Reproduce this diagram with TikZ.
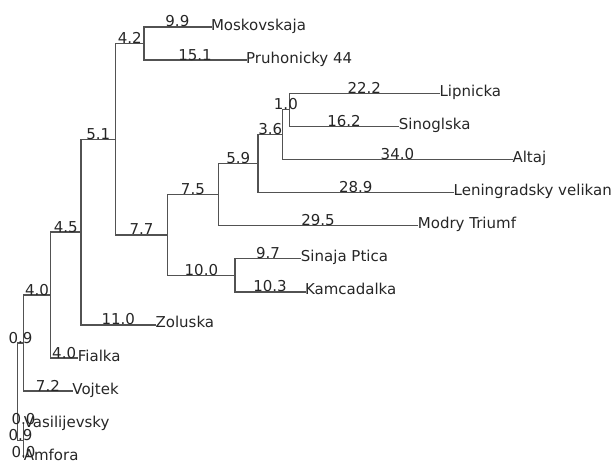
\documentclass[tikz,border=0pt]{standalone}
\usepackage{fontspec}
\setmainfont{DejaVu Sans}
\newcommand\cl[3]{\coordinate (#1) at ({17.5+6.76*#2},{-6.1+33.1*#3});}
\newcommand\branch[3]{\draw[br] (#1 |- #2) -- node[blab]{#3} (#2);}
\newcommand\vspan[3]{\draw[br] (#1 |- #2) -- (#1 |- #3);}
\begin{document}
\begin{tikzpicture}[x=1pt,y=-1pt,
  br/.style={draw=black!68, line width=1.4pt, line cap=rect},
  blab/.style={anchor=base, inner sep=0pt, text=black!85, font=\fontsize{15}{17}\selectfont},
  tlab/.style={anchor=base west, inner sep=0pt, text=black!85, font=\fontsize{15}{17}\selectfont}]
\useasboundingbox (0,0) rectangle (613,463);
% clades
\cl{root}{0}{12.0244}
\cl{A}{0.9}{10.548828}
\cl{B}{0.9}{13.5}
\cl{n40}{4.9}{9.09765625}
\cl{n45}{9.4}{7.1953125}
\cl{n51}{14.5}{4.390625}
\cl{n42}{18.7}{1.5}
\cl{n77}{22.2}{7.28125}
\cl{n75}{29.7}{6.0625}
\cl{n59}{35.6}{5.125}
\cl{n36}{39.2}{4.25}
\cl{n10}{40.2}{3.5}
\cl{n100}{32.2}{8.5}
% tips
\cl{mosk}{28.6}{1}
\cl{pruh}{33.8}{2}
\cl{lipn}{62.4}{3}
\cl{sino}{56.4}{4}
\cl{alta}{73.2}{5}
\cl{leni}{64.5}{6}
\cl{modr}{59.2}{7}
\cl{sina}{41.9}{8}
\cl{kamc}{42.5}{9}
\cl{zolu}{20.4}{10}
\cl{fial}{8.9}{11}
\cl{vojt}{8.1}{12}
\cl{vasi}{0.9}{13}
\cl{amfo}{0.9}{14}
% vertical spans
\vspan{root}{A}{B}
\vspan{A}{n40}{vojt}
\vspan{B}{vasi}{amfo}
\vspan{n40}{n45}{fial}
\vspan{n45}{n51}{zolu}
\vspan{n51}{n42}{n77}
\vspan{n42}{mosk}{pruh}
\vspan{n77}{n75}{n100}
\vspan{n75}{n59}{modr}
\vspan{n59}{n36}{leni}
\vspan{n36}{n10}{alta}
\vspan{n10}{lipn}{sino}
\vspan{n100}{sina}{kamc}
% horizontal branches with lengths
\branch{root}{A}{0.9}
\branch{root}{B}{0.9}
\branch{A}{n40}{4.0}
\branch{A}{vojt}{7.2}
\branch{B}{vasi}{0.0}
\branch{B}{amfo}{0.0}
\branch{n40}{n45}{4.5}
\branch{n40}{fial}{4.0}
\branch{n45}{n51}{5.1}
\branch{n45}{zolu}{11.0}
\branch{n51}{n42}{4.2}
\branch{n51}{n77}{7.7}
\branch{n42}{mosk}{9.9}
\branch{n42}{pruh}{15.1}
\branch{n77}{n75}{7.5}
\branch{n77}{n100}{10.0}
\branch{n75}{n59}{5.9}
\branch{n75}{modr}{29.5}
\branch{n59}{n36}{3.6}
\branch{n59}{leni}{28.9}
\branch{n36}{n10}{1.0}
\branch{n36}{alta}{34.0}
\branch{n10}{lipn}{22.2}
\branch{n10}{sino}{16.2}
\branch{n100}{sina}{9.7}
\branch{n100}{kamc}{10.3}
% tip labels
\node[tlab] (t-mosk) at ([yshift=-3pt]mosk) {Moskovskaja};
\node[tlab] (t-pruh) at ([yshift=-3pt]pruh) {Pruhonicky 44};
\node[tlab] (t-lipn) at ([yshift=-3pt]lipn) {Lipnicka};
\node[tlab] (t-sino) at ([yshift=-3pt]sino) {Sinoglska};
\node[tlab] (t-alta) at ([yshift=-3pt]alta) {Altaj};
\node[tlab] (t-leni) at ([yshift=-3pt]leni) {Leningradsky velikan};
\node[tlab] (t-modr) at ([yshift=-3pt]modr) {Modry Triumf};
\node[tlab] (t-sina) at ([yshift=-3pt]sina) {Sinaja Ptica};
\node[tlab] (t-kamc) at ([yshift=-3pt]kamc) {Kamcadalka};
\node[tlab] (t-zolu) at ([yshift=-3pt]zolu) {Zoluska};
\node[tlab] (t-fial) at ([yshift=-3pt]fial) {Fialka};
\node[tlab] (t-vojt) at ([yshift=-3pt]vojt) {Vojtek};
\node[tlab] (t-vasi) at ([yshift=-3pt]vasi) {Vasilijevsky};
\node[tlab] (t-amfo) at ([yshift=-3pt]amfo) {Amfora};
\end{tikzpicture}
\end{document}
